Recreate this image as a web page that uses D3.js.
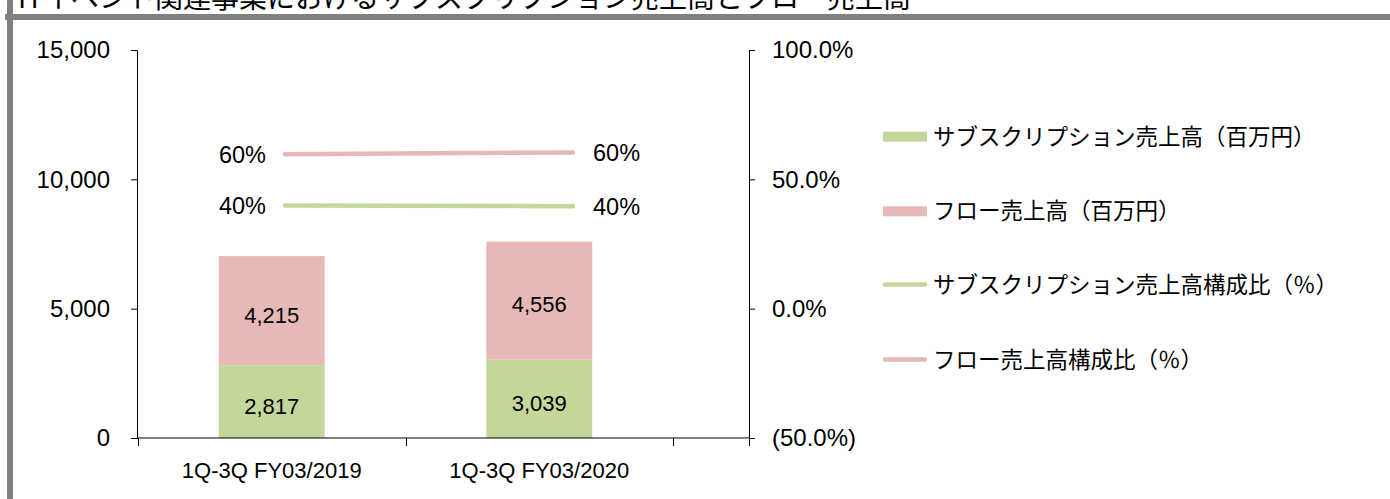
<!DOCTYPE html>
<html>
<head>
    <meta charset="utf-8" />
    <title>Subscription / Flow Sales</title>
    <style>
        body { margin: 0; background: #fff; }
        #chart { width: 1390px; height: 499px; }
        text { font-family: "Liberation Sans", Arial, sans-serif; fill: #000; }
        .jp { font-family: "Noto Sans CJK JP", sans-serif; }
    </style>
</head>
<body>
    <div id="chart"></div>
    <script src="https://cdnjs.cloudflare.com/ajax/libs/d3/7.8.5/d3.min.js"></script>
    <script>
        // data
        var title = "ITイベント関連事業におけるサブスクリプション売上高とフロー売上高"
        var categories = ["1Q-3Q FY03/2019", "1Q-3Q FY03/2020"]
        var subscription = [2817, 3039]      // 百万円
        var flow = [4215, 4556]              // 百万円
        var subscriptionShare = [39.9, 39.6] // %
        var flowShare = [59.7, 60.4]         // %
        var leftTicks = [0, 5000, 10000, 15000]
        var rightTicks = [-50, 0, 50, 100]
        var legendNames = [
            "サブスクリプション売上高（百万円）",
            "フロー売上高（百万円）",
            "サブスクリプション売上高構成比（％）",
            "フロー売上高構成比（％）"
        ]
        var green = "#C4D79B", pink = "#E6B9B8"

        var width = 1390, height = 499
        var svg = d3.select("#chart").append("svg")
            .attr("width", width)
            .attr("height", height)

        // title (cut off by the top of the picture)
        svg.append("text")
            .attr("class", "jp")
            .attr("x", 18)
            .attr("y", 8)
            .style("font-size", "28px")
            .text(title)

        // grey frame
        svg.append("rect").attr("x", 5).attr("y", 14).attr("width", width - 5).attr("height", 6).attr("fill", "#808080")
        svg.append("rect").attr("x", 7).attr("y", 0).attr("width", 6).attr("height", height).attr("fill", "#808080")

        var yLeft = d3.scaleLinear().domain([0, 15000]).range([438, 50])
        var yRight = d3.scaleLinear().domain([-50, 100]).range([438, 50])
        var x = d3.scaleBand().domain(categories).range([138, 673])
            .paddingInner(0.604).paddingOuter(0.302)
        var xLine = d3.scalePoint().domain(categories).range([285, 573])
        var xEnd = 749

        // stacked bars
        var rows = categories.map(function (c, i) {
            return { cat: c, subscription: subscription[i], flow: flow[i] }
        })
        var series = d3.stack().keys(["subscription", "flow"])(rows)
        var colors = { subscription: green, flow: pink }

        var g = svg.append("g")
        g.selectAll("g.layer")
            .data(series)
            .enter().append("g")
            .attr("class", "layer")
            .attr("fill", function (d) { return colors[d.key] })
            .each(function (s) {
                var layer = d3.select(this)
                layer.selectAll("rect")
                    .data(s)
                    .enter().append("rect")
                    .attr("x", function (d) { return x(d.data.cat) })
                    .attr("width", x.bandwidth())
                    .attr("y", function (d) { return yLeft(d[1]) })
                    .attr("height", function (d) { return yLeft(d[0]) - yLeft(d[1]) })
                layer.selectAll("text")
                    .data(s)
                    .enter().append("text")
                    .attr("x", function (d) { return x(d.data.cat) + x.bandwidth() / 2 })
                    .attr("y", function (d) { return (yLeft(d[0]) + yLeft(d[1])) / 2 + 12 })
                    .attr("text-anchor", "middle")
                    .style("font-size", "22px")
                    .text(function (d) { return d3.format(",")(d[1] - d[0]) })
            })

        // share lines
        var lines = [
            { values: flowShare, color: pink },
            { values: subscriptionShare, color: green }
        ]
        var line = d3.line()
            .x(function (d, i) { return xLine(categories[i]) })
            .y(function (d) { return yRight(d) })
        lines.forEach(function (l) {
            g.append("path")
                .attr("d", line(l.values))
                .attr("fill", "none")
                .attr("stroke", l.color)
                .attr("stroke-width", 4.5)
                .attr("stroke-linecap", "round")
            l.values.forEach(function (v, i) {
                var first = i === 0
                g.append("text")
                    .attr("x", xLine(categories[i]) + (first ? -19 : 20))
                    .attr("y", yRight(v))
                    .attr("dy", "0.36em")
                    .attr("text-anchor", first ? "end" : "start")
                    .style("font-size", "23.5px")
                    .text(d3.format(".0f")(v) + "%")
            })
        })

        // axes
        var leftAxis = svg.append("g")
            .attr("transform", "translate(137,0)")
            .call(d3.axisLeft(yLeft).tickValues(leftTicks).tickSize(6).tickSizeOuter(0).tickPadding(21)
                .tickFormat(d3.format(",")))
        var rightAxis = svg.append("g")
            .attr("transform", "translate(" + xEnd + ",0)")
            .call(d3.axisRight(yRight).tickValues(rightTicks).tickSize(6).tickSizeOuter(0).tickPadding(17)
                .tickFormat(function (d) {
                    var s = d3.format(".1f")(Math.abs(d)) + "%"
                    return d < 0 ? "(" + s + ")" : s
                }))
        var bottomAxis = svg.append("g")
            .attr("transform", "translate(0,438)")
            .call(d3.axisBottom(x).tickSize(0).tickPadding(24))
        bottomAxis.select(".domain").remove()

        ;[leftAxis, rightAxis, bottomAxis].forEach(function (a) {
            a.selectAll(".tick text").style("font-size", "24px").style("font-family", "'Liberation Sans', Arial, sans-serif").attr("fill", "#000")
            a.selectAll(".tick line").attr("stroke", "#000")
            a.select(".domain").attr("stroke", "#000")
        })
        bottomAxis.selectAll(".tick text").style("font-size", "22px").attr("dy", "0.71em")

        // baseline and category boundary ticks
        svg.append("line")
            .attr("x1", 137).attr("x2", xEnd)
            .attr("y1", yLeft(0)).attr("y2", yLeft(0))
            .attr("stroke", "#000")
        var bounds = d3.range(categories.length + 1).map(function (i) { return x.range()[0] + i * x.step() })
        bounds.push(xEnd)
        svg.selectAll("line.bound")
            .data(bounds)
            .enter().append("line")
            .attr("class", "bound")
            .attr("x1", function (d) { return Math.round(d) + 0.5 })
            .attr("x2", function (d) { return Math.round(d) + 0.5 })
            .attr("y1", yLeft(0))
            .attr("y2", yLeft(0) + 8)
            .attr("stroke", "#000")

        // legend
        var legend = svg.append("g").attr("transform", "translate(883,0)")
        var legendRows = [136.7, 211.3, 284.5, 359.5]
        var legendItems = [
            { name: legendNames[0], color: green, type: "rect" },
            { name: legendNames[1], color: pink, type: "rect" },
            { name: legendNames[2], color: green, type: "line" },
            { name: legendNames[3], color: pink, type: "line" }
        ]
        legendItems.forEach(function (d, i) {
            var y = legendRows[i]
            if (d.type === "rect") {
                legend.append("rect")
                    .attr("x", 0).attr("y", y - 5)
                    .attr("width", 44).attr("height", 10)
                    .attr("fill", d.color)
            } else {
                legend.append("line")
                    .attr("x1", 2).attr("x2", 42)
                    .attr("y1", y).attr("y2", y)
                    .attr("stroke", d.color)
                    .attr("stroke-width", 4.5)
                    .attr("stroke-linecap", "round")
            }
            legend.append("text")
                .attr("class", "jp")
                .attr("x", 50)
                .attr("y", y)
                .attr("dy", "0.36em")
                .style("font-size", "22.5px")
                .text(d.name)
        })
    </script>
</body>
</html>
